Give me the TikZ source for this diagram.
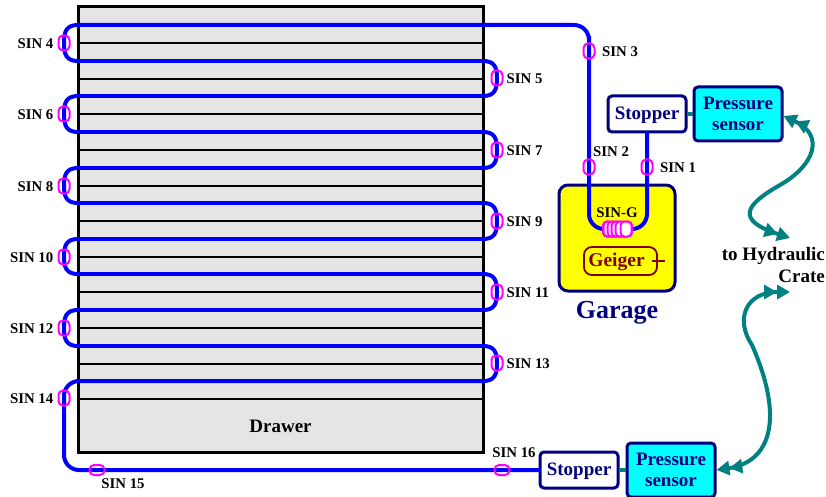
\documentclass[tikz,border=0pt]{standalone}
\usepackage{fontspec}
\setmainfont{Liberation Serif}
\usetikzlibrary{arrows.meta}
\definecolor{navyline}{RGB}{0,0,128}
\definecolor{tealline}{RGB}{0,128,128}
\definecolor{drawergray}{RGB}{229,229,229}
\definecolor{fibreblue}{RGB}{0,0,255}
\definecolor{ringpink}{RGB}{255,0,255}
\definecolor{sensorcyan}{RGB}{0,255,255}
\definecolor{garageyellow}{RGB}{255,255,0}
\definecolor{geigerred}{RGB}{128,0,0}
\tikzset{
  sinline/.style={draw=fibreblue, line width=4pt, rounded corners=15pt, line cap=round},
  sinturn/.style={draw=fibreblue, line width=4pt, line cap=round, looseness=1.3},
  sinring/.style={draw=ringpink, line width=2pt, rounded corners=4.5pt, minimum width=11pt,
                  minimum height=15pt, inner sep=0pt},
  sinlabel/.style={font=\fontsize{14.8}{16}\selectfont\bfseries, text=black, inner sep=0pt, yshift=-1pt},
  bluebox/.style={draw=navyline, line width=3pt, rounded corners=4pt, inner sep=0pt,
                  text=navyline, align=center, font=\fontsize{19}{21}\selectfont\bfseries},
  link/.style={draw=tealline, line width=4pt},
  hydro/.style={draw=tealline, line width=4pt,
                {Triangle[length=13pt,width=14pt]Triangle[length=13pt,width=14pt]}-{Triangle[length=13pt,width=14pt]Triangle[length=13pt,width=14pt]}},
}
\begin{document}
\begin{tikzpicture}[x=1pt, y=-1pt]
    \useasboundingbox (0,0) rectangle (826,497);
    % drawer stack
    \node[draw=black, line width=3pt, fill=drawergray, minimum width=405pt, minimum height=445pt,
          inner sep=0pt] (stack) at (280.5,229.5) {};
    \foreach \y in {43,79,114,150,186,221,257,292,328,364,399}
      \draw[black, line width=2.6pt] (78,\y) -- (483,\y);
    \node[font=\fontsize{19}{22}\selectfont\bfseries, text=black] (drawer) at (280.5,426) {Drawer};
    % garage
    \node[bluebox, fill=garageyellow, rounded corners=9pt, minimum width=116pt, minimum height=106pt] (garage) at (617,238) {};
    \node[text=navyline, font=\fontsize{26}{28}\selectfont\bfseries, inner sep=0pt] (garagetext) at (617,313) {Garage};
    \node[draw=geigerred, line width=1.8pt, rounded corners=8pt, minimum width=73pt, minimum height=28pt,
          text=geigerred, font=\fontsize{19.5}{22}\selectfont\bfseries, inner sep=0pt,
          text height=13pt, text depth=2pt] (geiger) at (620.5,261) {Geiger\hspace*{8pt}};
    \coordinate (geigerend) at (665,261);
    \draw[geigerred, line width=1.8pt] (geiger.center) ++(31,0) -- (geigerend);
    \node[sinlabel] (sing) at (617,212) {SIN-G};
    % boxes
    \node[bluebox, fill=white, minimum width=78pt, minimum height=36pt, text height=13pt, text depth=2pt] (stopperup) at (647,114) {Stopper};
    \node[bluebox, fill=sensorcyan, minimum width=88pt, minimum height=54pt] (sensorup) at (738,114) {Pressure\\sensor};
    \node[bluebox, fill=white, minimum width=78pt, minimum height=36pt, text height=13pt, text depth=2pt] (stopperdown) at (579,470) {Stopper};
    \node[bluebox, fill=sensorcyan, minimum width=88pt, minimum height=54pt] (sensordown) at (671,470) {Pressure\\sensor};
    \draw[link] (stopperup) -- (sensorup);
    \draw[link] (stopperdown) -- (sensordown);
    % rings
    \foreach \n/\x/\y in {1/647/167, 2/589/167, 3/589/51, 4/64/43, 5/497/78, 6/64/114, 7/497/150, 8/64/186,
                          9/497/221, 10/64/257, 11/497/292, 12/64/328, 13/497/363, 14/64/398, 15/97/470, 16/502/470}
      \coordinate (pos\n) at (\x,\y);
    \foreach \r/\y in {a/25,b/61,c/96,d/132,e/168,f/203,g/239,h/274,i/310,j/346,k/381} {
      \coordinate (rowl\r) at (78,\y);
      \coordinate (rowr\r) at (483,\y);
    }
    \node[minimum width=29pt, minimum height=14pt, inner sep=0pt] (coil) at (617.5,229) {};
    % sin fibre
    \draw[sinline] (stopperup.south) -- (pos1) |- (coil.east);
    \draw[sinline] (coil.west) -| (pos2) -- (pos3) |- (rowla);
    \draw[sinline] (rowrk) -| (pos15 -| pos14) -- (stopperdown.west);
    \foreach \r in {b,c,d,e,f,g,h,i,j}
      \draw[sinline] (rowl\r) -- (rowr\r);
    \foreach \p/\a/\b in {4/a/b, 6/c/d, 8/e/f, 10/g/h, 12/i/j}
      \draw[sinturn] (rowl\a) to[out=180,in=90] (pos\p) to[out=-90,in=180] (rowl\b);
    \foreach \p/\a/\b in {5/b/c, 7/d/e, 9/f/g, 11/h/i, 13/j/k}
      \draw[sinturn] (rowr\a) to[out=0,in=90] (pos\p) to[out=-90,in=0] (rowr\b);
    \foreach \n in {1,...,14}
      \node[sinring] (sin\n) at (pos\n) {};
    \node[sinring, minimum width=15pt, minimum height=10pt] (sin15) at (pos15) {};
    \node[sinring, minimum width=15pt, minimum height=10pt] (sin16) at (pos16) {};
    \foreach \n in {4,6,8,10,12,14}
      \node[sinlabel, anchor=east] (lab\n) at ([xshift=-4pt]sin\n.west) {SIN \n};
    \foreach \n in {5,7,9,11,13}
      \node[sinlabel, anchor=west] (lab\n) at ([xshift=3pt]sin\n.east) {SIN \n};
    \node[sinlabel, anchor=west] (lab3) at (602,51) {SIN 3};
    \node[sinlabel, anchor=west] (lab2) at (593,151) {SIN 2};
    \node[sinlabel, anchor=west] (lab1) at (660,167) {SIN 1};
    \node[sinlabel] (lab15) at (123,483) {SIN 15};
    \node[sinlabel] (lab16) at (514,452) {SIN 16};
    % coil
    \node[sinring, fill=white, minimum width=29pt, rounded corners=4pt] (coilbody) at (coil) {};
    \foreach \i/\x/\w in {1/608/9, 2/612/9, 3/616/9, 4/620/9, 5/626/11}
      \node[sinring, fill=white, minimum width=\w pt, rounded corners=4pt] (turn\i) at (\x,229) {};
    % hydraulic lines
    \node[font=\fontsize{19}{22}\selectfont\bfseries, text=black, align=right, anchor=north east, inner sep=0pt] (crate) at (825,247) {to Hydraulic\\Crate};
    \coordinate (crateup) at (790,238);
    \coordinate (cratedown) at (790,292);
    \draw[hydro] (sensorup.east |- 0,116) .. controls (825,135) and (815,165) .. (780,185)
      .. controls (745,205) and (735,220) .. (crateup);
    \draw[hydro] (cratedown) .. controls (745,292) and (735,320) .. (752,345)
      .. controls (785,420) and (770,462) .. (sensordown.east);
\end{tikzpicture}
\end{document}
